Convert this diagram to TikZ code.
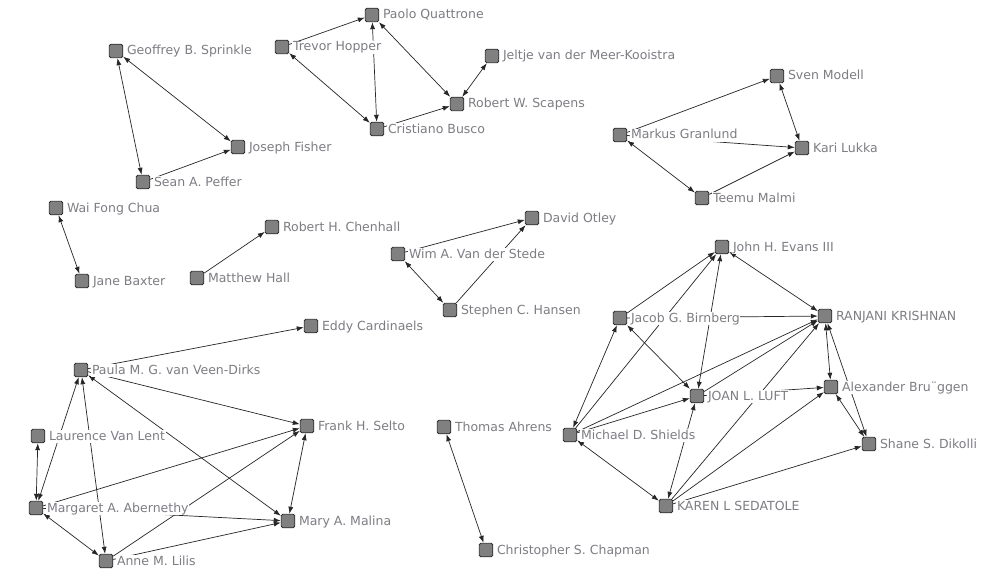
\documentclass[tikz,border=0pt]{standalone}
\usepackage{fontspec}
\newfontfamily\labfont{DejaVu Sans}
\usetikzlibrary{arrows.meta}
\definecolor{nodefill}{RGB}{128,128,128}
\definecolor{nodeedge}{RGB}{45,45,45}
\definecolor{labtext}{RGB}{125,125,132}
\newcommand\lbl[2]{\node[lab] (#1-l) at ([xshift=3pt,yshift=-4pt]#1.east) {#2};}
\begin{document}
\begin{tikzpicture}[x=1pt,y=-1pt,
 actor/.style={rectangle,draw=nodeedge,fill=nodefill,line width=0.9pt,minimum size=13.5pt,inner sep=0pt,rounded corners=1.5pt},
 lab/.style={anchor=base west,fill=white,inner sep=0.6pt,text=labtext,font=\labfont\fontsize{12.5}{14}\selectfont,text height=9.5pt,text depth=2.5pt},
 tie/.style={draw=black!85,line width=0.7pt,-{Latex[length=7pt,width=5pt]}},
 mutual/.style={draw=black!85,line width=0.7pt,{Latex[length=7pt,width=5pt]}-{Latex[length=7pt,width=5pt]}}]
\fill[white] (0,0) rectangle (987,583);
\useasboundingbox (0,0) rectangle (987,583);
% actors
\node[actor] (pq) at (372,15) {};
\node[actor] (th) at (282,47) {};
\node[actor] (jm) at (492,56) {};
\node[actor] (rs) at (457,104) {};
\node[actor] (cb) at (377,129) {};
\node[actor] (gs) at (116,51) {};
\node[actor] (jf) at (238,147) {};
\node[actor] (sp) at (143,182) {};
\node[actor] (wc) at (56,208) {};
\node[actor] (jb) at (82,281) {};
\node[actor] (rc) at (272,227) {};
\node[actor] (mh) at (197,278) {};
\node[actor] (ws) at (398,254) {};
\node[actor] (do) at (532,218) {};
\node[actor] (sh) at (450,310) {};
\node[actor] (sm) at (777,76) {};
\node[actor] (mg) at (620,135) {};
\node[actor] (kl) at (802,148) {};
\node[actor] (tm) at (702,198) {};
\node[actor] (je) at (722,247) {};
\node[actor] (gb) at (620,318) {};
\node[actor] (rk) at (825,316) {};
\node[actor] (ab) at (831,387) {};
\node[actor] (jl) at (697,396) {};
\node[actor] (ms) at (570,435) {};
\node[actor] (sd) at (869,444) {};
\node[actor] (ks) at (666,506) {};
\node[actor] (ta) at (444,427) {};
\node[actor] (cc) at (486,550) {};
\node[actor] (ec) at (311,326) {};
\node[actor] (pv) at (81,370) {};
\node[actor] (lv) at (38,436) {};
\node[actor] (fs) at (307,426) {};
\node[actor] (ma) at (36,508) {};
\node[actor] (mm) at (288,521) {};
\node[actor] (al) at (106,561) {};
% one-way ties
\foreach \a/\b in {th/pq,cb/rs,sp/jf,mh/rc,mg/sm,mg/kl,tm/kl,ws/do,sh/do,pv/ec,pv/fs,ma/fs,ma/mm,al/fs,al/mm,gb/je,ms/je,gb/rk,ms/rk,ms/jl,jl/rk,jl/ab,ks/rk,ks/ab,ks/sd}
  \draw[tie] (\a) -- (\b);
% mutual ties
\foreach \a/\b in {pq/cb,th/cb,pq/rs,rs/jm,gs/jf,gs/sp,wc/jb,sm/kl,mg/tm,ws/sh,ta/cc,pv/mm,pv/ma,pv/al,lv/ma,ma/al,fs/mm,je/rk,je/jl,gb/ms,gb/jl,ks/jl,ms/ks,rk/ab,rk/sd,ab/sd}
  \draw[mutual] (\a) -- (\b);
% labels
\lbl{pq}{Paolo Quattrone}
\lbl{th}{Trevor Hopper}
\lbl{jm}{Jeltje van der Meer-Kooistra}
\lbl{rs}{Robert W. Scapens}
\lbl{cb}{Cristiano Busco}
\lbl{gs}{Geoffrey B. Sprinkle}
\lbl{jf}{Joseph Fisher}
\lbl{sp}{Sean A. Peffer}
\lbl{wc}{Wai Fong Chua}
\lbl{jb}{Jane Baxter}
\lbl{rc}{Robert H. Chenhall}
\lbl{mh}{Matthew Hall}
\lbl{ws}{Wim A. Van der Stede}
\lbl{do}{David Otley}
\lbl{sh}{Stephen C. Hansen}
\lbl{sm}{Sven Modell}
\lbl{mg}{Markus Granlund}
\lbl{kl}{Kari Lukka}
\lbl{tm}{Teemu Malmi}
\lbl{je}{John H. Evans III}
\lbl{gb}{Jacob G. Birnberg}
\lbl{rk}{RANJANI KRISHNAN}
\lbl{ab}{Alexander Bru¨ggen}
\lbl{jl}{JOAN L. LUFT}
\lbl{ms}{Michael D. Shields}
\lbl{sd}{Shane S. Dikolli}
\lbl{ks}{KAREN L SEDATOLE}
\lbl{ta}{Thomas Ahrens}
\lbl{cc}{Christopher S. Chapman}
\lbl{ec}{Eddy Cardinaels}
\lbl{pv}{Paula M. G. van Veen-Dirks}
\lbl{lv}{Laurence Van Lent}
\lbl{fs}{Frank H. Selto}
\lbl{ma}{Margaret A. Abernethy}
\lbl{mm}{Mary A. Malina}
\lbl{al}{Anne M. Lilis}
\end{tikzpicture}
\end{document}
